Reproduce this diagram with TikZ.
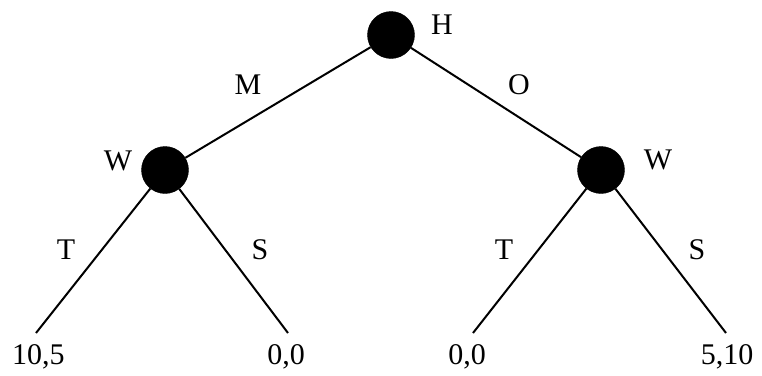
\documentclass[tikz,border=0pt]{standalone}
\usepackage{fontspec}
\setmainfont{Liberation Serif}
\begin{document}
\begin{tikzpicture}[x=1pt,y=-1pt,
  dot/.style={circle,fill=black,draw=black,minimum size=47pt,inner sep=0pt},
  lbl/.style={inner sep=0pt,font=\fontsize{30}{35}\selectfont},
  edge/.style={line width=2pt}]
\useasboundingbox (0,0) rectangle (762,375);
\node[dot] (h) at (391,35) {};
\node[dot] (w1) at (165,170) {};
\node[dot] (w2) at (601,170) {};
\coordinate (l1) at (36,333);
\coordinate (l2) at (288,333);
\coordinate (l3) at (473,333);
\coordinate (l4) at (726,333);
\draw[edge] (h) -- (w1);
\draw[edge] (h) -- (w2);
\draw[edge] (w1) -- (l1);
\draw[edge] (w1) -- (l2);
\draw[edge] (w2) -- (l3);
\draw[edge] (w2) -- (l4);
\node[lbl] (th) at (442,25) {H};
\node[lbl] (tm) at (248,85) {M};
\node[lbl] (to) at (519,85) {O};
\node[lbl] (tw1) at (118,161) {W};
\node[lbl] (tw2) at (658,160) {W};
\node[lbl] (tt1) at (66,250) {T};
\node[lbl] (ts1) at (260,250) {S};
\node[lbl] (tt2) at (504,250) {T};
\node[lbl] (ts2) at (697,250) {S};
\node[lbl] (p1) at (38.5,357) {10,5};
\node[lbl] (p2) at (286,357) {0,0};
\node[lbl] (p3) at (467,357) {0,0};
\node[lbl] (p4) at (727,357) {5,10};
\end{tikzpicture}
\end{document}
